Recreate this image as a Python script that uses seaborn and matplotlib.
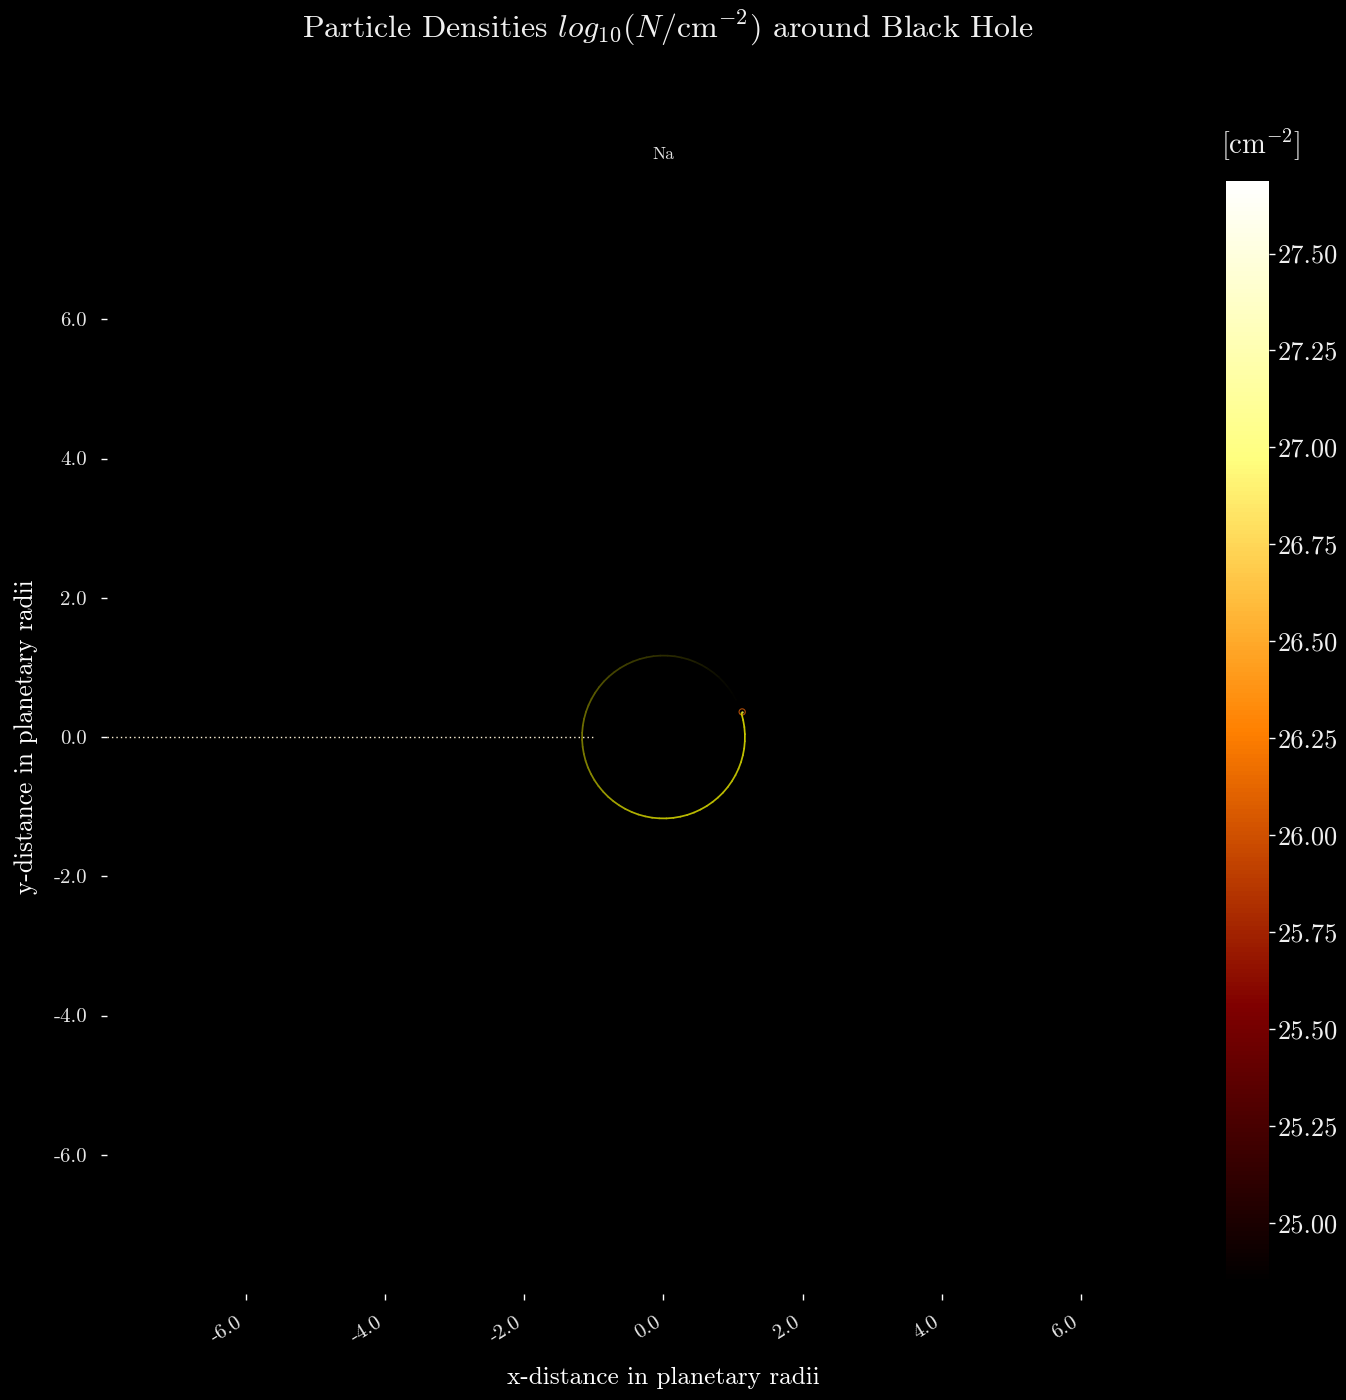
import numpy as np
import pandas as pd
import matplotlib
matplotlib.use("Agg")
import matplotlib.pyplot as plt
import seaborn as sns

# orbit of the gas tail, starting at the source going clockwise
orbit_x = [1.119, 1.144, 1.161, 1.169, 1.168, 1.159, 1.140, 1.113, 1.077, 1.033, 0.981, 0.922,
           0.856, 0.783, 0.704, 0.620, 0.531, 0.438, 0.342, 0.243, 0.143, 0.041, -0.061, -0.163,
           -0.263, -0.362, -0.457, -0.549, -0.637, -0.720, -0.798, -0.869, -0.934, -0.992, -1.042, -1.085,
           -1.119, -1.144, -1.161, -1.169, -1.168, -1.159, -1.140, -1.113, -1.077, -1.033, -0.981, -0.922,
           -0.856, -0.783, -0.704, -0.620, -0.531, -0.438, -0.342, -0.243, -0.143, -0.041, 0.061, 0.163,
           0.263, 0.362, 0.457, 0.549, 0.637, 0.720, 0.798, 0.869, 0.934, 0.992, 1.042]
orbit_y = [0.342, 0.243, 0.143, 0.041, -0.061, -0.163, -0.263, -0.362, -0.457, -0.549, -0.637, -0.720,
           -0.798, -0.869, -0.934, -0.992, -1.042, -1.085, -1.119, -1.144, -1.161, -1.169, -1.168, -1.159,
           -1.140, -1.113, -1.077, -1.033, -0.981, -0.922, -0.856, -0.783, -0.704, -0.620, -0.531, -0.438,
           -0.342, -0.243, -0.143, -0.041, 0.061, 0.163, 0.263, 0.362, 0.457, 0.549, 0.637, 0.720,
           0.798, 0.869, 0.934, 0.992, 1.042, 1.085, 1.119, 1.144, 1.161, 1.169, 1.168, 1.159,
           1.140, 1.113, 1.077, 1.033, 0.981, 0.922, 0.856, 0.783, 0.704, 0.620, 0.531]
# how bright each piece between two orbit points looks (0-1)
orbit_level = [0.78, 0.78, 0.78, 0.78, 0.76, 0.76, 0.74, 0.74, 0.73, 0.73, 0.73, 0.73,
               0.73, 0.73, 0.73, 0.73, 0.73, 0.73, 0.73, 0.73, 0.73, 0.73, 0.71, 0.71,
               0.69, 0.69, 0.67, 0.66, 0.64, 0.62, 0.60, 0.58, 0.56, 0.54, 0.52, 0.50,
               0.48, 0.47, 0.46, 0.45, 0.44, 0.42, 0.40, 0.39, 0.37, 0.35, 0.33, 0.31,
               0.29, 0.27, 0.26, 0.25, 0.23, 0.22, 0.21, 0.20, 0.18, 0.17, 0.16, 0.15,
               0.13, 0.12, 0.10, 0.09, 0.07, 0.06, 0.04, 0.03, 0.02, 0.01]

stream_x = [-8.0, -0.98]
stream_y = [0.0, 0.0]
source_x = [1.13]
source_y = [0.36]

ticks = [-6.0, -4.0, -2.0, 0.0, 2.0, 4.0, 6.0]
cbar_ticks = [25.0, 25.25, 25.5, 25.75, 26.0, 26.25, 26.5, 26.75, 27.0, 27.25, 27.5]
vmin, vmax = 24.845, 27.687

sns.set_theme(style="ticks", rc={"figure.facecolor": "black", "axes.facecolor": "black",
                                 "savefig.facecolor": "black", "text.color": "white",
                                 "axes.labelcolor": "white", "xtick.color": "white", "ytick.color": "white"})
plt.rcParams["font.family"] = ["cmr10", "DejaVu Serif"]
plt.rcParams["mathtext.fontset"] = "cm"
plt.rcParams["axes.unicode_minus"] = False
plt.rcParams["axes.formatter.use_mathtext"] = True

W, H = 1346, 1400
fig = plt.figure(figsize=(W / 100, H / 100), dpi=100)
ax = fig.add_axes([106.5 / W, 1 - 1294 / H, 1114 / W, 1114 / H])
cax = fig.add_axes([1226 / W, 1 - 1283 / H, 43 / W, 1102 / H])

# one little line per orbit piece so each gets its own colour
segs = []
for i, lev in enumerate(orbit_level):
    segs.append(pd.DataFrame({"x": orbit_x[i:i + 2], "y": orbit_y[i:i + 2], "seg": i}))
orbit = pd.concat(segs)
pal = {i: (lev, lev, 0.0) for i, lev in enumerate(orbit_level)}
sns.lineplot(data=orbit, x="x", y="y", hue="seg", palette=pal, sort=False, estimator=None,
             legend=False, linewidth=1.25, solid_capstyle="round", ax=ax)
for l in ax.lines:
    l.set_snap(False)  # otherwise the circle looks like a polygon

sns.lineplot(x=stream_x, y=stream_y, sort=False, estimator=None, color="#fff4d8",
             linestyle=(0, (1, 2.2)), linewidth=1.0, ax=ax)
sns.scatterplot(x=source_x, y=source_y, s=20, facecolor="none", edgecolor="#b04c08",
                linewidth=0.8, ax=ax)
sns.scatterplot(x=source_x, y=source_y, s=3, color="#d8d040", linewidth=0, ax=ax)

ax.set_xlim(-8, 8)
ax.set_ylim(-8, 8)
sns.despine(ax=ax, left=True, bottom=True)
ax.set_xticks(ticks)
ax.set_yticks(ticks)
ax.set_xticklabels([f"{t:.1f}" for t in ticks], rotation=32, ha="right", fontsize=15, color="#e6e6e6")
ax.set_yticklabels([f"{t:.1f}" for t in ticks], fontsize=15, color="#e6e6e6")
ax.tick_params(axis="both", length=4, width=1, pad=10, color="white")
ax.set_xlabel("x-distance in planetary radii", fontsize=18.2, labelpad=15)
ax.set_ylabel("y-distance in planetary radii", fontsize=18.3, labelpad=11)
ax.set_title("Na", fontsize=12.5, pad=15, color="#e6e6e6")

sm = plt.cm.ScalarMappable(norm=plt.Normalize(vmin, vmax), cmap="afmhot")
cb = fig.colorbar(sm, cax=cax)
cb.set_ticks(cbar_ticks)
cb.set_ticklabels([f"{t:.2f}" for t in cbar_ticks])
cb.outline.set_visible(False)
cax.tick_params(labelsize=19, length=4, width=1, pad=2, color="white", labelcolor="#f0f0f0")
fig.text(1261 / W, 1 - 145 / H, r"[cm$^{-2}$]", fontsize=20.5, ha="center", va="center", color="#f0f0f0")

fig.text(668 / W, 1 - 28 / H, r"Particle Densities $log_{10}(N/\mathrm{cm}^{-2})$ around Black Hole",
         fontsize=23, ha="center", va="center", color="#f0f0f0")

fig.savefig("out.png", dpi=100)
